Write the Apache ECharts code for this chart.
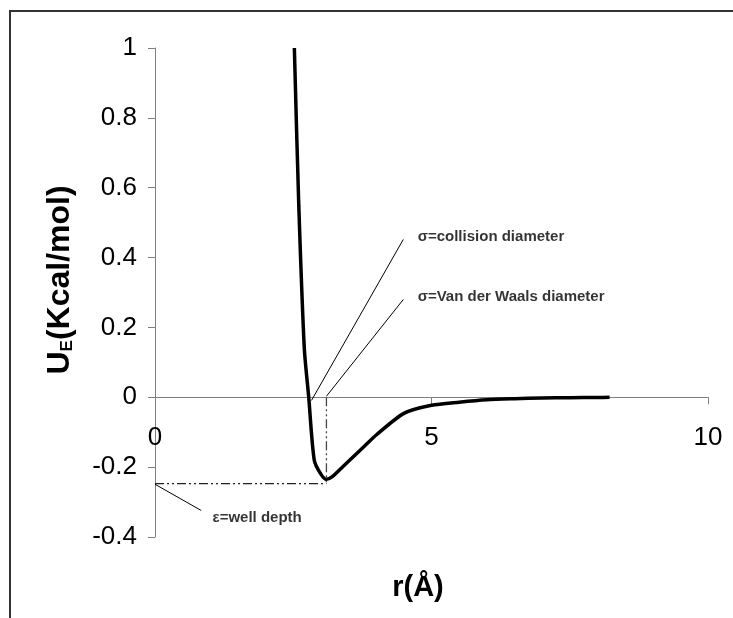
<!DOCTYPE html>
<html>
<head>
<meta charset="utf-8">
<script src="https://cdn.jsdelivr.net/npm/echarts@6/dist/echarts.min.js"></script>
<style>
html,body{margin:0;padding:0;background:#fff;}
#chart{width:733px;height:618px;}
</style>
</head>
<body>
<div id="chart"></div>
<script>
// Potential curve (r in Å, U in Kcal/mol)
const rValues = [2.52, 2.60, 2.70, 2.78, 2.88, 3.00, 3.10, 3.20, 3.40, 3.60, 3.80, 4.00, 4.50, 5.00, 5.50, 6.00, 6.50, 7.00, 7.50, 8.00, 8.22];
const uValues = [1.00, 0.55, 0.14, 0.00, -0.18, -0.22, -0.235, -0.228, -0.198, -0.168, -0.138, -0.108, -0.046, -0.023, -0.014, -0.007, -0.004, -0.002, -0.001, -0.0005, 0.0];

// Axis ticks
const xTicks = [0, 5, 10];
const yTicks = [-0.4, -0.2, 0, 0.2, 0.4, 0.6, 0.8, 1];

// Well depth guide (dash-dot)
const wellDepth = -0.247;
const wellR = 3.10;

// Annotation leader lines: [r1,u1,r2,u2]
const collisionLine = [2.83, -0.009, 4.49, 0.452];
const vdwLine = [3.10, 0.003, 4.49, 0.280];
const epsLine = [0.0, -0.249, 0.835, -0.324];

// Annotation texts and anchor positions
const annTexts = ['σ=collision diameter', 'σ=Van der Waals diameter', 'ε=well depth'];
const annR = [4.75, 4.75, 1.04];
const annU = [0.458, 0.287, -0.344];

const chart = echarts.init(document.getElementById('chart'));
const FONT = '"Liberation Sans", Arial, sans-serif';

const GRID = {left: 155, right: 25, top: 48, bottom: 81};
const gridH = 618 - GRID.top - GRID.bottom;
const yMin = yTicks[0], yMax = yTicks[yTicks.length - 1];
// move the x axis (line, ticks, labels) up to the U = 0 level
const xAxisOffset = -((0 - yMin) / (yMax - yMin)) * gridH;

const curve = rValues.map((r, i) => [r, uValues[i]]);
const seg = a => [[a[0], a[1]], [a[2], a[3]]];
const dashDot = [9, 3, 2, 3, 2, 3];

chart.setOption({
  animation: false,
  backgroundColor: '#fff',
  grid: Object.assign({containLabel: false}, GRID),
  xAxis: {
    type: 'value', min: xTicks[0], max: xTicks[xTicks.length - 1], interval: 5,
    position: 'bottom', offset: xAxisOffset,
    axisLine: {onZero: false, lineStyle: {color: '#808080', width: 1}},
    axisTick: {show: true, length: 7, inside: false, lineStyle: {color: '#808080'}},
    splitLine: {show: false},
    axisLabel: {fontSize: 26, color: '#000', fontFamily: FONT, margin: 28}
  },
  yAxis: {
    type: 'value', min: yMin, max: yMax, interval: 0.2,
    axisLine: {show: true, onZero: false, lineStyle: {color: '#808080', width: 1}},
    axisTick: {show: true, length: 7, inside: false, lineStyle: {color: '#808080'}},
    splitLine: {show: false},
    axisLabel: {fontSize: 26, color: '#000', fontFamily: FONT, margin: 18,
      formatter: v => String(Math.round(v * 10) / 10)}
  },
  series: [
    {type: 'line', data: [[0, wellDepth], [wellR, wellDepth]], symbol: 'none', silent: true,
      lineStyle: {color: '#222', width: 1.2, type: dashDot}, z: 2},
    {type: 'line', data: [[wellR, 0], [wellR, wellDepth]], symbol: 'none', silent: true,
      lineStyle: {color: '#444', width: 1.3, type: dashDot}, z: 2},
    {type: 'line', data: seg(collisionLine), symbol: 'none', silent: true,
      lineStyle: {color: '#000', width: 1}, z: 3},
    {type: 'line', data: seg(vdwLine), symbol: 'none', silent: true,
      lineStyle: {color: '#000', width: 1}, z: 3},
    {type: 'line', data: seg(epsLine), symbol: 'none', silent: true,
      lineStyle: {color: '#000', width: 1}, z: 3},
    {type: 'line', data: curve, symbol: 'none', silent: true, smooth: 0.25,
      lineStyle: {color: '#000', width: 3.5}, z: 5},
    {type: 'scatter', symbolSize: 0, silent: true, z: 6,
      data: annTexts.map((t, i) => ({name: t, value: [annR[i], annU[i]]})),
      label: {show: true, position: 'right', distance: 0, formatter: p => p.name,
        fontSize: 15, fontWeight: 'bold', color: '#000', fontFamily: FONT}}
  ],
  graphic: [
    {type: 'rect', shape: {x: 10, y: 11, width: 800, height: 700}, silent: true,
      style: {fill: 'none', stroke: '#333', lineWidth: 2}, z: 0},
    {type: 'text', x: 60, y: 280, rotation: Math.PI / 2, silent: true,
      style: {text: '{a|U}{b|E}{a|(Kcal/mol)}', align: 'center', verticalAlign: 'middle',
        rich: {
          a: {fontSize: 32, fontWeight: 'bold', fontFamily: FONT, fill: '#000', lineHeight: 32},
          b: {fontSize: 17, fontWeight: 'bold', fontFamily: FONT, fill: '#000', verticalAlign: 'bottom', lineHeight: 32}
        }}},
    {type: 'text', x: 418, y: 588, silent: true,
      style: {text: 'r(Å)', align: 'center', verticalAlign: 'middle',
        font: 'bold 29px "Liberation Sans", Arial, sans-serif', fill: '#000'}}
  ]
});
</script>
</body>
</html>
